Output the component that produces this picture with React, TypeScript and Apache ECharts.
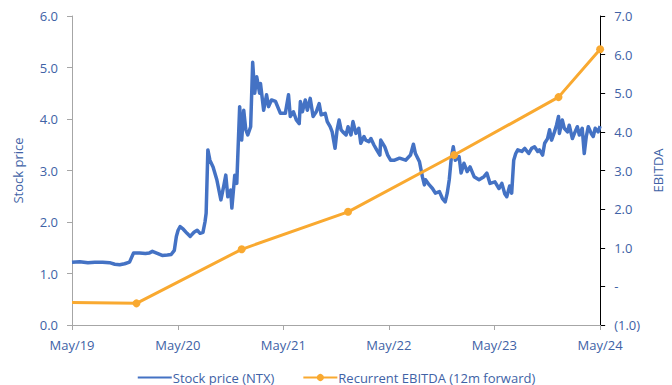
import React, { useEffect, useRef } from "react";
import * as echarts from "echarts";

const xTickLabels = ["2019-05-01", "2020-05-01", "2021-05-01", "2022-05-01", "2023-05-01", "2024-05-01"];

const stockDates = [
  "2019-05-01","2019-05-28","2019-06-25","2019-07-19","2019-08-15","2019-09-08","2019-09-26","2019-10-13","2019-10-30","2019-11-16",
  "2019-11-30","2019-12-21","2020-01-10","2020-01-24","2020-02-03","2020-02-20","2020-03-08","2020-03-26","2020-04-08","2020-04-19",
  "2020-04-26","2020-05-02","2020-05-09","2020-05-20","2020-06-02","2020-06-13","2020-06-26","2020-07-07","2020-07-17","2020-07-27",
  "2020-08-03","2020-08-07","2020-08-13","2020-08-20","2020-08-31","2020-09-13","2020-09-27","2020-10-07","2020-10-14","2020-10-21",
  "2020-10-31","2020-11-04","2020-11-14","2020-11-21","2020-12-01","2020-12-08","2020-12-15","2020-12-22","2020-12-29","2021-01-08",
  "2021-01-15","2021-01-22","2021-01-29","2021-02-08","2021-02-11","2021-02-22","2021-03-04","2021-03-11","2021-03-21","2021-04-04",
  "2021-04-21","2021-05-08","2021-05-19","2021-05-25","2021-06-05","2021-06-15","2021-06-25","2021-06-29","2021-07-06","2021-07-16",
  "2021-07-23","2021-08-02","2021-08-12","2021-08-23","2021-09-02","2021-09-09","2021-09-23","2021-09-30","2021-10-10","2021-10-17",
  "2021-10-27","2021-11-03","2021-11-10","2021-11-17","2021-11-23","2021-12-04","2021-12-11","2021-12-21","2021-12-28","2022-01-07",
  "2022-01-17","2022-01-24","2022-02-04","2022-02-10","2022-02-21","2022-02-28","2022-03-10","2022-03-20","2022-03-31","2022-04-03",
  "2022-04-17","2022-04-27","2022-05-07","2022-05-21","2022-06-07","2022-06-28","2022-07-15","2022-07-25","2022-08-01","2022-08-15",
  "2022-08-25","2022-09-01","2022-09-05","2022-09-18","2022-09-29","2022-10-09","2022-10-23","2022-11-02","2022-11-12","2022-11-19",
  "2022-11-26","2022-12-03","2022-12-10","2022-12-17","2022-12-30","2023-01-06","2023-01-16","2023-01-27","2023-02-06","2023-02-20",
  "2023-03-09","2023-03-26","2023-04-05","2023-04-16","2023-05-03","2023-05-17","2023-05-27","2023-06-06","2023-06-13","2023-06-23",
  "2023-06-30","2023-07-07","2023-07-14","2023-07-21","2023-08-04","2023-08-14","2023-08-28","2023-09-07","2023-09-17","2023-09-28",
  "2023-10-04","2023-10-15","2023-10-22","2023-11-01","2023-11-08","2023-11-15","2023-11-25","2023-12-02","2023-12-09","2023-12-12",
  "2023-12-22","2023-12-29","2024-01-09","2024-01-15","2024-01-26","2024-02-02","2024-02-12","2024-02-19","2024-02-29","2024-03-07",
  "2024-03-14","2024-03-21","2024-03-31","2024-04-07","2024-04-14","2024-04-24","2024-05-01"
];

const stockPrice = [
  1.22,1.23,1.21,1.22,1.22,1.21,1.18,1.17,1.19,1.22,
  1.40,1.40,1.39,1.40,1.43,1.39,1.35,1.36,1.37,1.45,
  1.72,1.84,1.91,1.86,1.78,1.72,1.80,1.84,1.78,1.80,
  2.00,2.17,3.40,3.20,3.07,2.82,2.43,2.70,2.91,2.49,
  2.62,2.27,2.91,2.75,4.24,3.59,4.17,3.80,3.69,3.85,
  5.10,4.50,4.82,4.50,4.69,4.17,4.47,4.24,4.37,4.34,
  4.11,4.11,4.47,4.05,4.14,3.98,3.91,4.34,4.14,4.37,
  4.17,4.40,4.05,4.14,4.30,4.08,4.11,3.95,3.85,3.75,
  3.43,3.79,3.98,3.79,3.75,3.69,3.85,3.69,3.95,3.72,
  3.82,3.53,3.66,3.59,3.56,3.62,3.50,3.40,3.30,3.59,
  3.46,3.30,3.20,3.20,3.24,3.20,3.30,3.51,3.33,3.17,
  2.88,2.72,2.82,2.72,2.65,2.56,2.59,2.46,2.39,2.56,
  2.82,3.24,3.46,3.20,3.27,2.95,3.14,2.98,3.07,2.88,
  2.82,2.88,2.95,2.75,2.78,2.65,2.75,2.55,2.49,2.70,
  2.56,3.20,3.33,3.40,3.37,3.43,3.33,3.43,3.46,3.37,
  3.40,3.30,3.53,3.62,3.79,3.59,3.75,3.88,4.05,3.72,
  3.98,3.82,3.75,3.88,3.62,3.72,3.85,3.69,3.82,3.33,
  3.66,3.85,3.72,3.66,3.82,3.75,3.86
];

const ebitdaDates = ["2019-05-01", "2019-12-10", "2020-12-08", "2021-12-11", "2022-12-13", "2023-12-09", "2024-05-01"];
const ebitdaValues = [-0.42, -0.44, 0.96, 1.93, 3.40, 4.90, 6.14];

const BLUE = "#4472C4";
const ORANGE = "#F9A930";
const TEXT = "#4062A6";
const FONT = "Open Sans";

const ts = (s: string) => new Date(s + "T00:00:00").getTime();

export default function App() {
  const ref = useRef<HTMLDivElement>(null);
  useEffect(() => {
    document.body.style.margin = "0";
    const chart = echarts.init(ref.current!, null, { renderer: "svg" });
    const ticks = xTickLabels.map(ts);
    chart.setOption({
      animation: false,
      textStyle: { fontFamily: FONT },
      grid: { left: 72, right: 68, top: 16, bottom: 60 },
      legend: {
        top: 366,
        left: "center",
        itemWidth: 34,
        itemHeight: 9,
        itemGap: 28,
        textStyle: { color: TEXT, fontSize: 13, fontFamily: FONT, padding: [0, 0, 0, -4] },
        data: [
          { name: "Stock price (NTX)", itemStyle: { opacity: 0 } },
          { name: "Recurrent EBITDA (12m forward)" },
        ],
      },
      xAxis: {
        type: "value",
        min: ticks[0],
        max: ticks[ticks.length - 1],
        axisLine: { lineStyle: { color: "#A6A6A6", width: 1 } },
        axisTick: { show: true, length: 5, customValues: ticks, lineStyle: { color: "#A6A6A6" } },
        axisLabel: {
          customValues: ticks,
          color: TEXT,
          fontSize: 13,
          fontFamily: FONT,
          margin: 13,
          showMinLabel: true,
          showMaxLabel: true,
          formatter: (v: number) => "May/" + String(new Date(v).getFullYear()).slice(2),
        },
        splitLine: { show: false },
      },
      yAxis: [
        {
          type: "value",
          min: 0,
          max: 6,
          interval: 1,
          name: "Stock price",
          nameLocation: "middle",
          nameGap: 48,
          nameTextStyle: { color: TEXT, fontSize: 13, fontFamily: FONT },
          axisLine: { show: true, lineStyle: { color: "#A6A6A6" } },
          axisTick: { show: true, length: 5, lineStyle: { color: "#A6A6A6" } },
          axisLabel: { color: TEXT, fontSize: 13, fontFamily: FONT, margin: 14, formatter: (v: number) => v.toFixed(1) },
          splitLine: { show: false },
        },
        {
          type: "value",
          min: -1,
          max: 7,
          interval: 1,
          position: "right",
          name: "EBITDA",
          nameLocation: "middle",
          nameGap: 43,
          nameTextStyle: { color: TEXT, fontSize: 13, fontFamily: FONT },
          axisLine: { show: true, lineStyle: { color: "#000000" } },
          axisTick: { show: true, length: 5, lineStyle: { color: "#000000" } },
          axisLabel: {
            color: TEXT,
            fontSize: 13,
            fontFamily: FONT,
            margin: 14,
            formatter: (v: number) => (v < 0 ? "(" + Math.abs(v).toFixed(1) + ")" : v === 0 ? "-" : v.toFixed(1)),
          },
          splitLine: { show: false },
        },
      ],
      series: [
        {
          name: "Stock price (NTX)",
          type: "line",
          yAxisIndex: 0,
          showSymbol: false,
          symbol: "none",
          lineStyle: { color: BLUE, width: 3.5, join: "round" },
          itemStyle: { color: BLUE },
          data: stockDates.map((d, i) => [ts(d), stockPrice[i]]),
        },
        {
          name: "Recurrent EBITDA (12m forward)",
          type: "line",
          yAxisIndex: 1,
          symbol: "circle",
          symbolSize: 8,
          lineStyle: { color: ORANGE, width: 3 },
          itemStyle: { color: ORANGE },
          data: ebitdaDates.map((d, i) => ({
            value: [ts(d), ebitdaValues[i]],
            symbol: i === 0 ? "none" : "circle",
          })),
          z: 3,
        },
      ],
    });
    return () => chart.dispose();
  }, []);
  return <div ref={ref} style={{ width: 672, height: 385 }} />;
}
